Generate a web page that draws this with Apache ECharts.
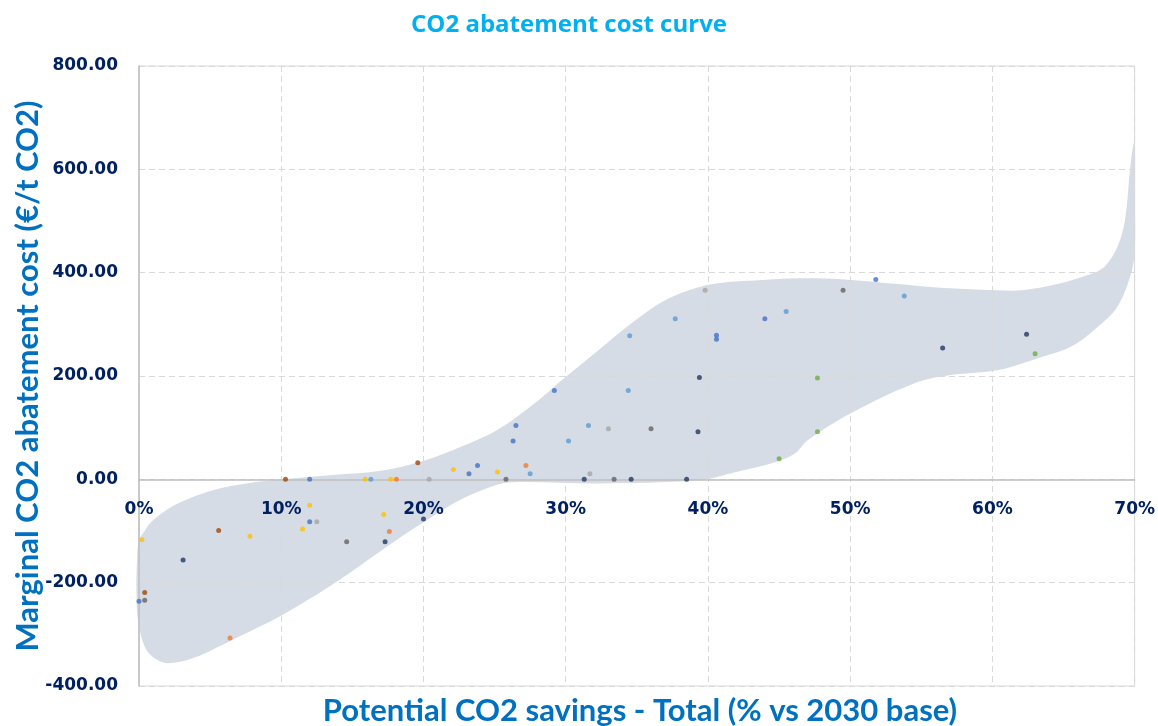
<!DOCTYPE html>
<html>
<head>
<meta charset="utf-8">
<title>CO2 abatement cost curve</title>
<script src="https://cdn.jsdelivr.net/npm/echarts@6/dist/echarts.min.js"></script>
<style>
  html, body { margin: 0; padding: 0; background: #ffffff; }
  #chart { width: 1158px; height: 726px; }
</style>
</head>
<body>
<div id="chart"></div>
<script>
// Abatement measures: [potential saving (% vs 2030 base), marginal cost (€/t CO2)]
const measuresNavy = [[3.1,-156],[17.3,-121],[20.0,-77],[31.3,0],[34.6,0],[38.5,0],[39.4,197],[39.3,92],[56.5,254],[62.4,281]];
const measuresBlue = [[0.0,-236],[12.0,0],[12.0,-82],[23.2,11],[23.8,27],[26.3,74],[26.5,104],[29.2,172],[40.6,279],[40.6,271],[44.0,311],[51.8,387]];
const measuresLightBlue = [[16.3,0],[27.5,11],[30.2,74],[31.6,104],[34.4,172],[34.5,278],[37.7,311],[45.5,325],[53.8,355]];
const measuresBrown = [[10.3,0],[19.6,32],[5.6,-99],[0.4,-219]];
const measuresOrange = [[18.1,0],[17.6,-101],[27.2,27],[6.4,-307]];
const measuresYellow = [[15.9,0],[17.7,0],[12.0,-50],[17.2,-68],[11.5,-96],[7.8,-110],[0.2,-117],[22.1,19],[25.2,14]];
const measuresLightGray = [[20.4,0],[12.5,-82],[31.7,11],[33.0,98],[39.8,366]];
const measuresDarkGray = [[14.6,-121],[0.4,-234],[25.8,0],[33.4,0],[36.0,98],[49.5,366]];
const measuresGreen = [[45.0,40],[47.7,92],[47.7,196],[63.0,243]];

// Outline of the shaded cost band, traced clockwise from the lower-left corner
const bandOutline = [
  [0.42,-325],[-0.07,-273],[-0.18,-215],[-0.14,-157],[0.0,-118],[0.42,-99],[0.77,-85],
  [1.68,-64],[2.87,-45],[5.19,-21],[7.57,-8],[10.09,0],[13.39,8],[16.89,16],[19.91,35],
  [22.71,64],[25.09,94],[27.62,143],[29.99,198],[32.30,250],[34.62,302],[37.01,347],
  [39.32,372],[41.42,382],[43.32,385],[46.34,389],[49.56,387],[53.34,378],[55.86,372],
  [60.35,366],[62.10,366],[64.55,378],[66.66,395],[67.86,411],[68.77,449],[69.32,502],
  [69.67,598],[69.93,651],[70.02,643],[70.02,540],[70.0,438],[69.67,391],[68.76,333],
  [67.36,294],[65.47,256],[63.15,234],[60.35,211],[56.84,201],[54.53,186],[50.05,128],
  [47.03,76],[46.12,50],[44.72,33],[41.63,12],[39.32,-2],[32.31,-8],[26.00,-6],
  [24.60,-16],[22.50,-41],[20.40,-76],[18.08,-118],[13.74,-201],[10.23,-260],[8.34,-287],
  [6.03,-318],[3.71,-347],[2.03,-356],[1.12,-347]
];

const xTickValues = [0, 10, 20, 30, 40, 50, 60, 70];
const yTickValues = [-400, -200, 0, 200, 400, 600, 800];

const chartTitle = 'CO2 abatement cost curve';
const xAxisTitle = 'Potential CO2 savings - Total (% vs 2030 base)';
const yAxisTitle = 'Marginal CO2 abatement cost (€/t CO2)';

const gridBox = { left: 139, right: 20, top: 66, bottom: 40 };
const plotHeight = 726 - gridBox.top - gridBox.bottom;
const yMin = yTickValues[0];
const yMax = yTickValues[yTickValues.length - 1];
// Lift the savings axis (line + labels) up to the zero cost level
const zeroLift = -plotHeight * (0 - yMin) / (yMax - yMin);

const chart = echarts.init(document.getElementById('chart'), null, { renderer: 'canvas' });

const tickFont = { fontFamily: 'DejaVu Sans', fontWeight: 'bold', fontSize: 17, color: '#002060' };
const titleBlue = '#0070C0';

function pointSeries(data, color) {
  return {
    type: 'scatter',
    data: data,
    symbol: 'circle',
    symbolSize: 5,
    itemStyle: { color: color },
    z: 3,
    silent: true
  };
}

const option = {
  animation: false,
  backgroundColor: '#ffffff',
  title: {
    text: chartTitle,
    left: 564,
    top: 8,
    textAlign: 'center',
    textStyle: { fontFamily: 'Open Sans', fontWeight: 'bold', fontSize: 24, color: '#00B0F0' }
  },
  grid: Object.assign({ show: true, borderColor: '#D9D9D9', borderWidth: 1, containLabel: false }, gridBox),
  xAxis: {
    type: 'value',
    min: xTickValues[0],
    max: xTickValues[xTickValues.length - 1],
    interval: xTickValues[1] - xTickValues[0],
    position: 'bottom',
    offset: zeroLift,
    axisLine: { show: true, onZero: false, lineStyle: { color: '#BFBFBF', width: 1.5 } },
    axisTick: { show: false },
    axisLabel: Object.assign({ margin: 22, formatter: v => v + '%' }, tickFont),
    splitLine: { show: true, lineStyle: { color: '#D9D9D9', type: [6, 4], width: 1 } }
  },
  yAxis: {
    type: 'value',
    min: yMin,
    max: yMax,
    interval: yTickValues[1] - yTickValues[0],
    axisLine: { show: true, onZero: false, lineStyle: { color: '#BFBFBF', width: 1.5 } },
    axisTick: { show: false },
    axisLabel: Object.assign({ margin: 21, formatter: v => v.toFixed(2) }, tickFont),
    splitLine: { show: true, lineStyle: { color: '#D9D9D9', type: [6, 4], width: 1 } }
  },
  graphic: [
    {
      type: 'text',
      x: 28, y: 376,
      rotation: Math.PI / 2,
      style: {
        text: yAxisTitle, fill: titleBlue,
        font: 'bold 31px Lato',
        textAlign: 'center', textVerticalAlign: 'middle'
      }
    },
    {
      type: 'text',
      x: 640, y: 711,
      style: {
        text: xAxisTitle, fill: titleBlue,
        font: 'bold 31px Lato',
        textAlign: 'center', textVerticalAlign: 'middle'
      }
    }
  ],
  series: [
    {
      type: 'custom',
      coordinateSystem: 'cartesian2d',
      data: bandOutline,
      encode: { x: 0, y: 1 },
      silent: true,
      z: -1,
      renderItem: function (params, api) {
        if (params.dataIndex !== 0) return null;
        const pts = bandOutline.map(p => api.coord(p));
        return {
          type: 'polygon',
          shape: { points: pts, smooth: 0.35 },
          style: { fill: '#D6DCE5', stroke: null }
        };
      }
    },
    pointSeries(measuresNavy, '#203864'),
    pointSeries(measuresBlue, '#4472C4'),
    pointSeries(measuresLightBlue, '#5B9BD5'),
    pointSeries(measuresBrown, '#9E480E'),
    pointSeries(measuresOrange, '#ED7D31'),
    pointSeries(measuresYellow, '#FFC000'),
    pointSeries(measuresLightGray, '#A5A5A5'),
    pointSeries(measuresDarkGray, '#636363'),
    pointSeries(measuresGreen, '#70AD47')
  ]
};

chart.setOption(option);
</script>
</body>
</html>
